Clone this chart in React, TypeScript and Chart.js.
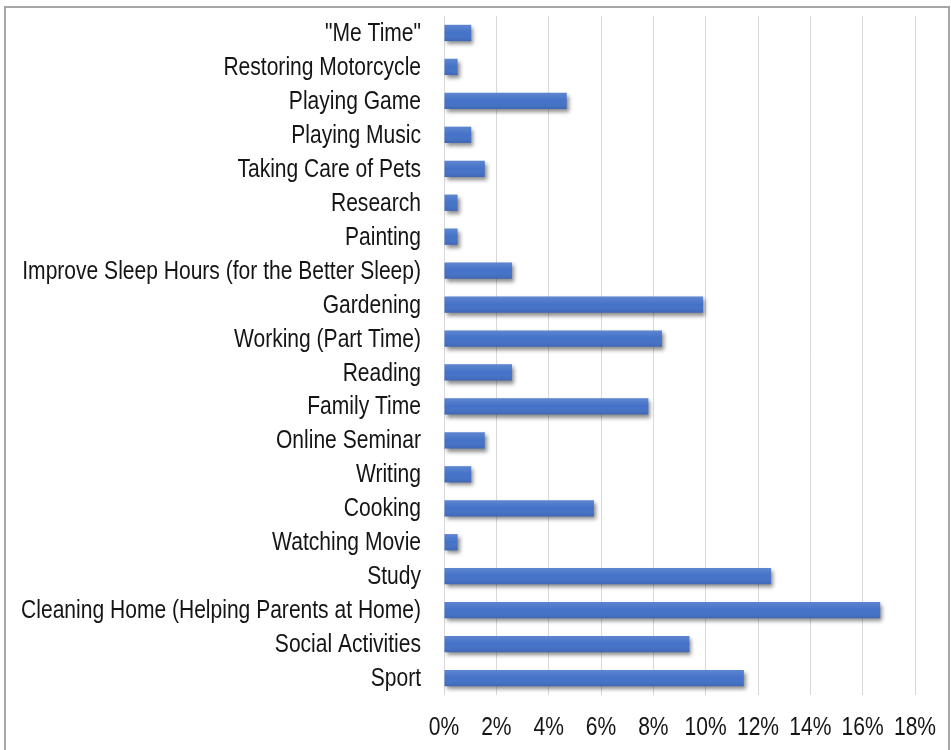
import React, { useEffect, useRef } from "react";
import { Chart, registerables } from "chart.js";

Chart.register(...registerables);

const categories: string[] = [
  '"Me Time"',
  "Restoring Motorcycle",
  "Playing Game",
  "Playing Music",
  "Taking Care of Pets",
  "Research",
  "Painting",
  "Improve Sleep Hours (for the Better Sleep)",
  "Gardening",
  "Working (Part Time)",
  "Reading",
  "Family Time",
  "Online Seminar",
  "Writing",
  "Cooking",
  "Watching Movie",
  "Study",
  "Cleaning Home (Helping Parents at Home)",
  "Social Activities",
  "Sport",
];

const shares: number[] = [
  1.04, 0.52, 4.69, 1.04, 1.56, 0.52, 0.52, 2.6, 9.9, 8.33, 2.6, 7.81, 1.56,
  1.04, 5.73, 0.52, 12.5, 16.67, 9.38, 11.46,
];

const xTicks: number[] = [0, 2, 4, 6, 8, 10, 12, 14, 16, 18];

const FONT = '"Liberation Sans", Arial, sans-serif';
const FONT_SIZE = 25.5;
const SQUEEZE = 0.825;
const TEXT_COLOR = "#151515";

const shadowPlugin = {
  id: "barShadow",
  beforeDatasetsDraw(chart: any) {
    const ctx = chart.ctx;
    ctx.save();
    ctx.shadowColor = "rgba(0,0,0,0.45)";
    ctx.shadowBlur = 4;
    ctx.shadowOffsetX = 2;
    ctx.shadowOffsetY = 3;
  },
  afterDatasetsDraw(chart: any) {
    const ctx = chart.ctx;
    ctx.restore();
    const meta = chart.getDatasetMeta(0);
    meta.data.forEach((bar: any) => {
      const p = bar.getProps(["x", "y", "base", "height"], true);
      const top = p.y - p.height / 2;
      const g = ctx.createLinearGradient(0, top, 0, top + p.height);
      g.addColorStop(0, "rgba(255,255,255,0.14)");
      g.addColorStop(0.5, "rgba(255,255,255,0)");
      g.addColorStop(1, "rgba(0,0,0,0.10)");
      ctx.save();
      ctx.fillStyle = g;
      ctx.fillRect(p.base, top, p.x - p.base, p.height);
      ctx.restore();
    });
  },
};

// Narrow (Arial Narrow-like) tick labels, positioned by the chart's own scales
const narrowLabelsPlugin = {
  id: "narrowLabels",
  afterDraw(chart: any) {
    const ctx = chart.ctx;
    const xs = chart.scales.x;
    const ys = chart.scales.y;
    ctx.save();
    ctx.fillStyle = TEXT_COLOR;
    ctx.font = `${FONT_SIZE}px ${FONT}`;
    ctx.textBaseline = "middle";
    ctx.textAlign = "right";
    categories.forEach((label, i) => {
      const y = ys.getPixelForTick(i);
      ctx.save();
      ctx.translate(chart.chartArea.left - 23, y + 1);
      ctx.scale(SQUEEZE, 1);
      ctx.fillText(label, 0, 0);
      ctx.restore();
    });
    ctx.textAlign = "center";
    xTicks.forEach((v) => {
      const x = xs.getPixelForValue(v);
      ctx.save();
      ctx.translate(x, chart.chartArea.bottom + 33);
      ctx.scale(SQUEEZE, 1);
      ctx.fillText(v + "%", 0, 0);
      ctx.restore();
    });
    ctx.restore();
  },
};

export default function App() {
  const ref = useRef<HTMLCanvasElement | null>(null);

  useEffect(() => {
    if (!ref.current) return;
    const chart = new Chart(ref.current, {
      type: "bar",
      data: {
        labels: categories,
        datasets: [
          {
            data: shares,
            backgroundColor: "#4472c8",
            borderWidth: 0,
            barPercentage: 0.48,
            categoryPercentage: 1.0,
          },
        ],
      },
      options: {
        indexAxis: "y",
        responsive: false,
        animation: false,
        layout: { padding: { top: 16, right: 36, left: 0, bottom: 0 } },
        plugins: {
          legend: { display: false },
          tooltip: { enabled: false },
        },
        scales: {
          x: {
            position: "bottom",
            min: 0,
            max: 18,
            afterBuildTicks(scale: any) {
              scale.ticks = xTicks.map((v) => ({ value: v }));
            },
            afterFit(scale: any) {
              scale.height = 55;
            },
            ticks: { display: false },
            grid: {
              color: "#d9d9d9",
              lineWidth: 1,
              drawTicks: false,
              tickLength: 0,
            },
            border: { display: false },
          },
          y: {
            afterFit(scale: any) {
              scale.width = 444;
            },
            ticks: { display: false, autoSkip: false },
            grid: { display: false, drawTicks: false, tickLength: 0 },
            border: { display: false },
          },
        },
      },
      plugins: [shadowPlugin, narrowLabelsPlugin],
    });
    return () => chart.destroy();
  }, []);

  return (
    <>
      <div
        style={{
          position: "fixed",
          left: 0,
          top: 0,
          width: 951,
          height: 750,
          background: "#ffffff",
        }}
      >
        <canvas ref={ref} width={951} height={750} style={{ width: 951, height: 750 }} />
      </div>
      <div
        style={{
          position: "fixed",
          left: 4,
          top: 6,
          width: 942,
          height: 760,
          border: "2px solid #a6a6a6",
          pointerEvents: "none",
        }}
      />
    </>
  );
}
